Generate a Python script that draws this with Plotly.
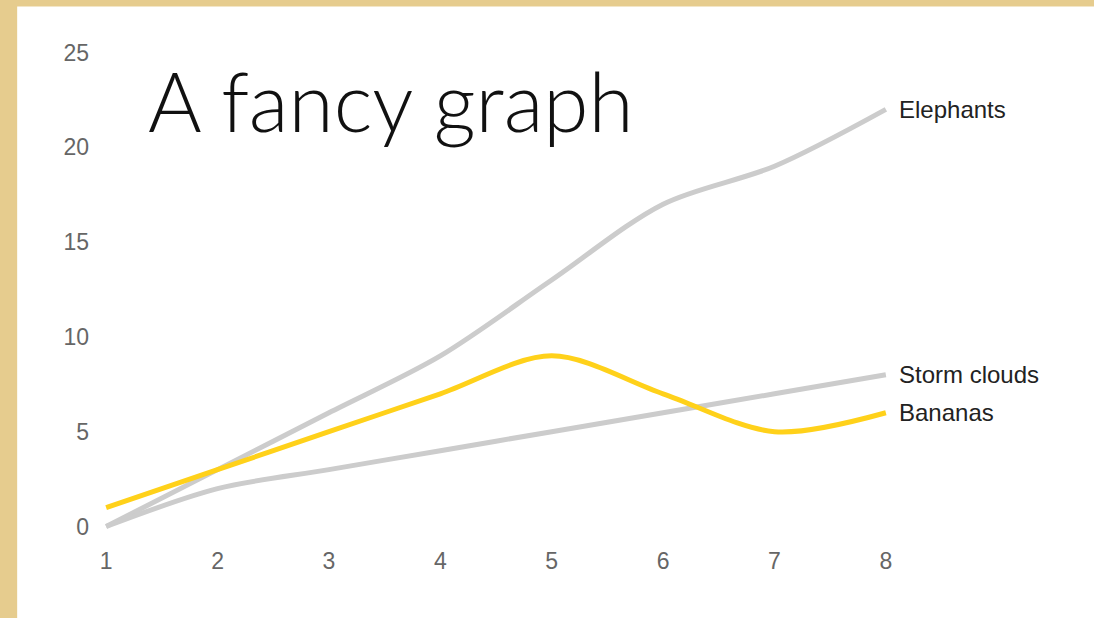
import plotly.graph_objects as go

x_vals = [1, 2, 3, 4, 5, 6, 7, 8]
elephants = [0, 3, 6, 9, 13, 17, 19, 22]
storm_clouds = [0, 2, 3, 4, 5, 6, 7, 8]
bananas = [1, 3, 5, 7, 9, 7, 5, 6]
series_names = ["Elephants", "Storm clouds", "Bananas"]
series_colors = ["#cccccc", "#cccccc", "#ffd11a"]
y_ticks = [0, 5, 10, 15, 20, 25]
title_text = "A fancy graph"

W, H = 1094, 618
# pixel geometry
x0_px, x1_px = 106, 886   # x=1 .. x=8
y0_px, y1_px = 527, 52    # y=0 .. y=25
xr = [0.9, 8.1]
yr = [-0.5, 25.5]
ppx = (x1_px - x0_px) / 7.0
ppy = (y0_px - y1_px) / 25.0
ml = x0_px - (1 - xr[0]) * ppx
mr = W - (x1_px + (xr[1] - 8) * ppx)
mt = y1_px - (yr[1] - 25) * ppy
mb = H - (y0_px + (0 - yr[0]) * ppy)
pw = W - ml - mr
ph = H - mt - mb

def px_to_paper_x(px):
    return (px - ml) / pw

def py_to_paper_y(py):
    return (H - mb - py) / ph

fig = go.Figure()
all_series = [elephants, storm_clouds, bananas]
for name, vals, col in zip(series_names, all_series, series_colors):
    fig.add_trace(go.Scatter(
        x=x_vals, y=vals, mode="lines", name=name,
        line=dict(color=col, width=5, shape="spline", smoothing=0.9),
        hoverinfo="x+y+name",
    ))
    fig.add_annotation(
        x=x_vals[-1], y=vals[-1], xref="x", yref="y",
        text=name, showarrow=False, xanchor="left", yanchor="middle",
        xshift=11,
        font=dict(family="Liberation Sans, Arial, sans-serif", size=24, color="#222222"),
    )

fig.add_annotation(
    x=px_to_paper_x(146), y=py_to_paper_y(100), xref="paper", yref="paper",
    text=title_text, showarrow=False, xanchor="left", yanchor="middle",
    font=dict(family="Lato", size=82, color="#111111", weight=300),
)

# white card over tan background
fig.add_shape(
    type="rect", xref="paper", yref="paper", layer="below",
    x0=px_to_paper_x(17), x1=px_to_paper_x(W + 5),
    y0=py_to_paper_y(H + 5), y1=py_to_paper_y(6),
    fillcolor="white", line=dict(width=0),
)

fig.update_layout(
    width=W, height=H,
    margin=dict(l=ml, r=mr, t=mt, b=mb, autoexpand=False),
    paper_bgcolor="#e6cc8e",
    plot_bgcolor="rgba(0,0,0,0)",
    showlegend=False,
    font=dict(family="Liberation Sans, Arial, sans-serif", size=23, color="#666666"),
    xaxis=dict(range=xr, tickvals=x_vals, showgrid=False, zeroline=False,
               showline=False, ticks="", ticklabelstandoff=9,
               tickfont=dict(size=23, color="#666666")),
    yaxis=dict(range=yr, tickvals=y_ticks, showgrid=False, zeroline=False,
               showline=False, ticks="", ticklabelstandoff=5,
               tickfont=dict(size=23, color="#666666")),
)

fig.write_html(
    "out.html",
    config={"displayModeBar": False},
    post_script="document.body.style.margin='0';document.body.style.overflow='hidden';document.body.style.background='#e6cc8e';",
)
